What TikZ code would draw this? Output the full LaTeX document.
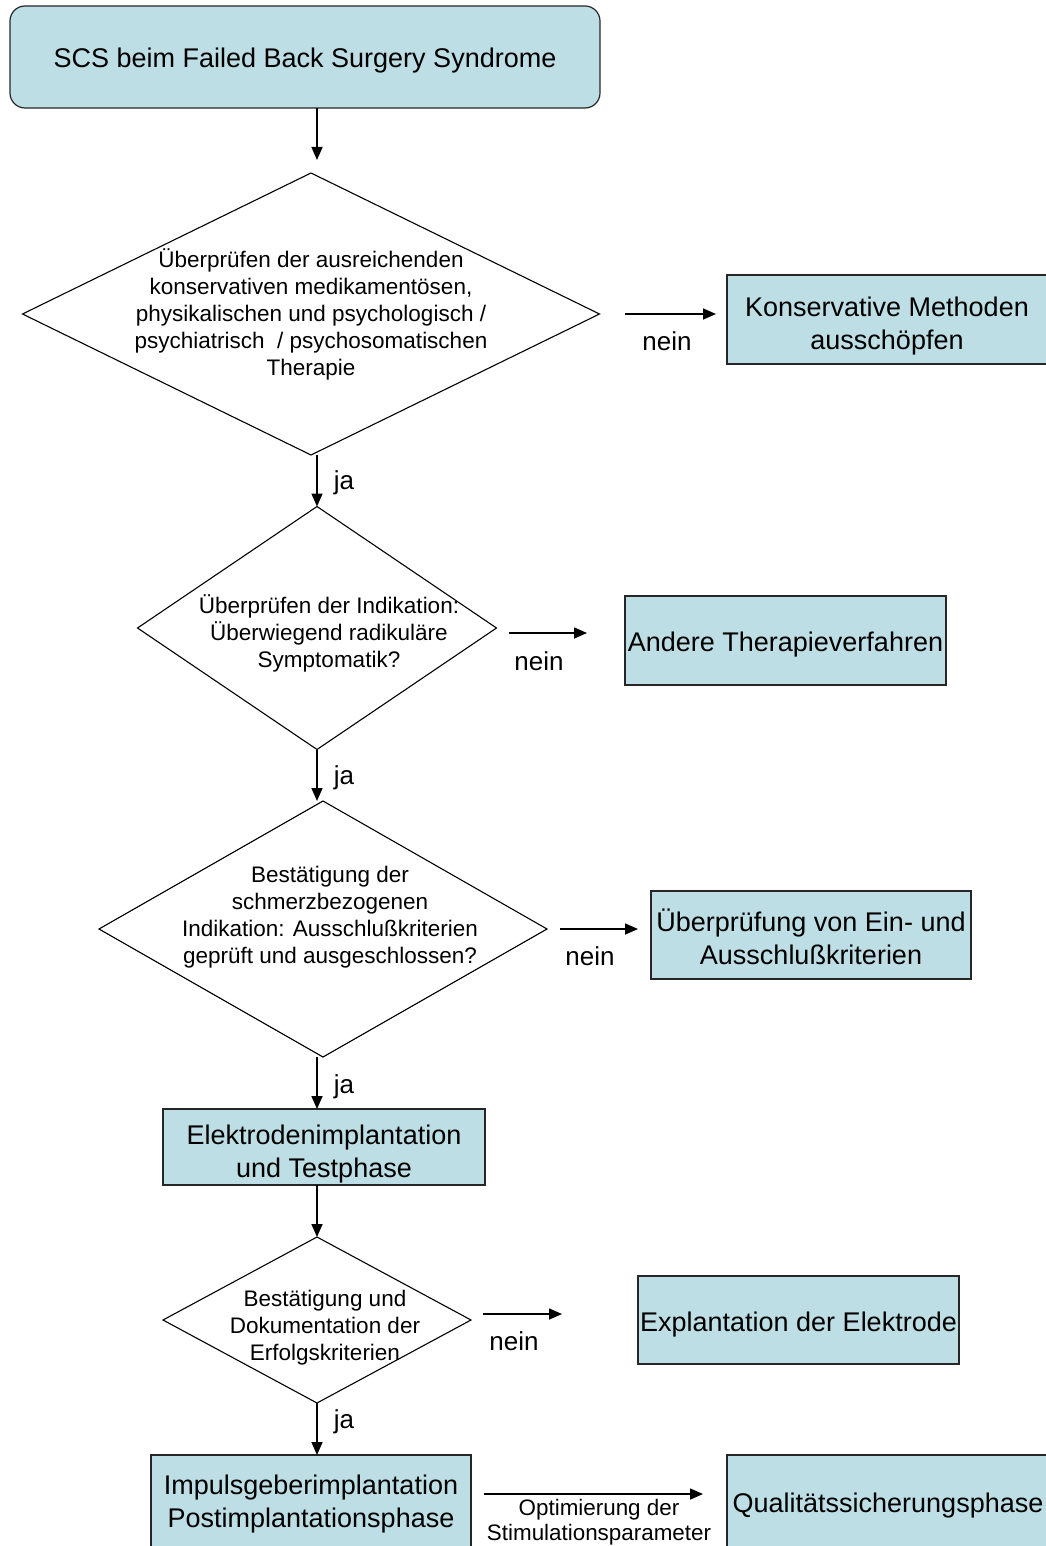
\documentclass[tikz,border=0pt]{standalone}
\usepackage{fontspec}
\setmainfont{Liberation Sans}
\usetikzlibrary{shapes.geometric,arrows.meta,calc}
\definecolor{boxfill}{RGB}{188,222,228}
\begin{document}
\begin{tikzpicture}[x=1pt,y=-1pt,
  boxa/.style={draw=black!85, line width=1.2pt, fill=boxfill, inner sep=0pt, outer sep=0pt},
  rbox/.style={boxa, rounded corners=15pt},
  btxt/.style={font=\fontsize{27}{33}\selectfont, align=center, inner sep=0pt},
  dia/.style={draw=black, line width=1.1pt, diamond, inner sep=0pt, outer sep=0pt},
  dtext/.style={font=\fontsize{22.5}{27}\selectfont, align=center, inner sep=0pt},
  lab/.style={font=\fontsize{26}{30}\selectfont, inner sep=0pt},
  arr/.style={line width=1.6pt, -{Triangle[length=13pt,width=11pt]}}]
\useasboundingbox (0,0) rectangle (1045,1546);

% title
\node[rbox, minimum width=590, minimum height=102] (t) at (305,57) {};
\node[btxt] (tt) at ($(t)+(0,4)$) {SCS beim Failed Back Surgery Syndrome};

% diamonds
\node[dia, minimum width=577, minimum height=282] (d1) at (311,314) {};
\node[dtext] (d1t) at (311,314) {Überprüfen der ausreichenden\\konservativen medikamentösen,\\physikalischen und psychologisch /\\psychiatrisch~ / psychosomatischen\\Therapie};

\node[dia, minimum width=359, minimum height=243] (d2) at (317,628) {};
\node[dtext] (d2t) at (329,633) {Überprüfen der Indikation:\\Überwiegend radikuläre\\Symptomatik?};

\node[dia, minimum width=448, minimum height=256] (d3) at (323,929) {};
\node[dtext] (d3t) at (330,917) {Bestätigung der\\schmerzbezogenen\\Indikation: Ausschlußkriterien\\geprüft und ausgeschlossen?};

\node[boxa, minimum width=322, minimum height=76] (e) at (324,1147) {};
\node[btxt] (et) at ($(e)+(0,7)$) {Elektrodenimplantation\\und Testphase};

\node[dia, minimum width=308, minimum height=166] (d4) at (317,1320) {};
\node[dtext] (d4t) at (325,1328) {Bestätigung und\\Dokumentation der\\Erfolgskriterien};

\node[boxa, minimum width=320, minimum height=93] (i) at (311,1501.5) {};
\node[btxt] (it) at ($(i)+(0,2)$) {Impulsgeberimplantation\\Postimplantationsphase};

% right boxes
\node[boxa, minimum width=320, minimum height=89] (k1) at (887,319.5) {};
\node[btxt] (k1t) at ($(k1)+(0,6.5)$) {Konservative Methoden\\ausschöpfen};
\node[boxa, minimum width=321, minimum height=89] (a2) at (785.5,640.5) {};
\node[btxt] (a2t) at ($(a2)+(0,4)$) {Andere Therapieverfahren};
\node[boxa, minimum width=320, minimum height=88] (u3) at (811,935) {};
\node[btxt] (u3t) at ($(u3)+(0,2)$) {Überprüfung von Ein- und\\Ausschlußkriterien};
\node[boxa, minimum width=321, minimum height=88] (x4) at (798.5,1320) {};
\node[btxt] (x4t) at ($(x4)+(0,5)$) {Explantation der Elektrode};
\node[boxa, minimum width=322, minimum height=93] (q) at (888,1501.5) {};
\node[btxt] (qt) at ($(q)+(0,4)$) {Qualitätssicherungsphase};

% vertical arrows
\draw[arr] (t.south -| d2.north) -- ($(d1.north -| d2.north)+(0,-13)$);
\draw[arr] (d1.south -| d2.north) -- (d2.north);
\draw[arr] (d2.south) -- (d3.north -| d2.south);
\draw[arr] (d3.south -| d2.south) -- (e.north -| d2.south);
\draw[arr] (e.south -| d4.north) -- (d4.north);
\draw[arr] (d4.south) -- (i.north -| d4.south);

% ja labels
\node[lab] (j1) at (344,483) {ja};
\node[lab] (j2) at (344,778) {ja};
\node[lab] (j3) at (344,1087) {ja};
\node[lab] (j4) at (344,1422) {ja};

% nein arrows
\draw[arr] ($(d1.east)+(25,0)$) -- ($(k1.west |- d1.east)+(-11,0)$);
\draw[arr] ($(d2.east)+(12,5)$) -- ($(a2.west |- d2.east)+(-38,5)$);
\draw[arr] ($(d3.east)+(13,0)$) -- ($(u3.west |- d3.east)+(-13,0)$);
\draw[arr] ($(d4.east)+(12,-6)$) -- ($(x4.west |- d4.east)+(-76,-6)$);

\node[lab] (n1) at (667,341) {nein};
\node[lab] (n2) at (539,661) {nein};
\node[lab] (n3) at (590,956) {nein};
\node[lab] (n4) at (514,1341) {nein};

% bottom arrow
\draw[arr] ($(i.east)+(13,-7.5)$) -- ($(q.west)+(-24,-7.5)$);
\node[font=\fontsize{22.4}{25}\selectfont, align=center, inner sep=0pt] (opt) at (599,1522) {Optimierung der\\Stimulationsparameter};
\end{tikzpicture}
\end{document}
